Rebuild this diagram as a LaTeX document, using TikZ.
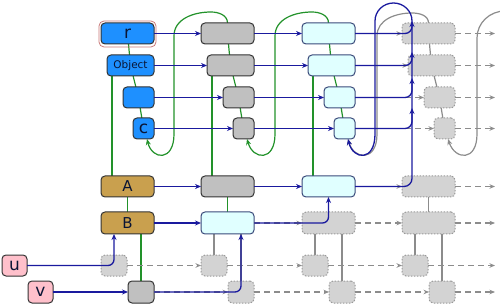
\documentclass[tikz,border=0pt]{standalone}
\usepackage{fontspec}
\setmainfont{DejaVu Sans}
\usetikzlibrary{arrows.meta,backgrounds,calc}
\definecolor{nblue}{HTML}{1E90FF}
\definecolor{ngold}{HTML}{C9A04E}
\definecolor{npink}{HTML}{FFC0CB}
\definecolor{ncyan}{HTML}{E0FFFF}
\definecolor{ngrey}{HTML}{C0C0C0}
\definecolor{ndot}{HTML}{D3D3D3}
\definecolor{ndotb}{HTML}{999999}
\definecolor{aline}{HTML}{1A1A9E}
\definecolor{gline}{HTML}{22922A}
\definecolor{sline}{HTML}{8C8C8C}
\definecolor{bord}{HTML}{333333}
\definecolor{cbord}{HTML}{3A4A7A}
\definecolor{txt}{HTML}{0A1535}
\definecolor{rfr}{HTML}{C87878}
\tikzset{
 base/.style={rounded corners=4pt, inner sep=0pt, outer sep=0pt, line width=1pt, font=\fontsize{15}{15}\selectfont, text=txt},
 big/.style={font=\fontsize{17}{17}\selectfont},
 bluebox/.style={base, draw=bord, fill=nblue},
 goldbox/.style={base, draw=bord, fill=ngold},
 pinkbox/.style={base, draw=bord, fill=npink},
 greybox/.style={base, draw=bord, fill=ngrey},
 cyanbox/.style={base, draw=cbord, fill=ncyan},
 dotbox/.style={base, draw=ndotb, fill=ndot, dash pattern=on 1.5pt off 1.5pt},
 bluearr/.style={draw=aline, line width=1.3pt, -{Stealth[length=6pt,width=5pt]}},
 greyarr/.style={draw=sline, line width=1.2pt, dash pattern=on 6pt off 4pt, -{Stealth[length=5.5pt,width=4.5pt]}},
 greenln/.style={draw=gline, line width=1.2pt},
 greyln/.style={draw=sline, line width=1.2pt},
 loopar/.style={-{Stealth[length=6pt,width=5pt]}},
 rframe/.style={draw=rfr, rounded corners=5pt, line width=0.8pt},
}
\newcommand\mybox[7]{\node[#6,minimum width={((#4)-(#2))*1pt},minimum height={((#5)-(#3))*1pt}] (#1) at ({((#2)+(#4))/2},{((#3)+(#5))/2}) {#7};}
\newcommand\colnodes[7]{%
 \mybox{r#1}{#2}{23}{#2+53}{44}{#3}{}
 \mybox{o#1}{#2+6}{55}{#2+53}{76}{#3}{}
 \mybox{t#1}{#2+22}{87}{#2+53}{108}{#3}{}
 \mybox{c#1}{#2+32}{118}{#2+53}{139}{#3}{}
 \mybox{a#1}{#2}{176}{#2+53}{197}{#4}{}
 \mybox{b#1}{#2}{212}{#2+53}{234}{#5}{}
 \mybox{u#1}{#2}{255}{#2+26}{276}{#6}{}
 \mybox{w#1}{#2+27}{281}{#2+53}{303}{#7}{}
}
\begin{document}
\begin{tikzpicture}[x=1pt,y=-1pt]
\useasboundingbox (0,0) rectangle (500,304);
\clip (0,0) rectangle (500,304);
% column 1
\mybox{r1}{101}{23}{154}{44}{bluebox,big}{r}
\mybox{o1}{107}{55}{154}{76}{bluebox,font=\fontsize{10.5}{11}\selectfont}{Object}
\mybox{t1}{123}{87}{154}{108}{bluebox}{}
\mybox{c1}{133}{118}{154}{139}{bluebox,big}{c}
\mybox{a1}{101}{176}{154}{197}{goldbox}{A}
\mybox{b1}{101}{212}{154}{234}{goldbox}{B}
\mybox{u1}{101}{255}{127}{276}{dotbox}{}
\mybox{w1}{128}{281}{154}{303}{greybox}{}
\mybox{pu}{2}{255}{27}{276}{pinkbox,big}{u}
\mybox{pv}{28}{281}{53}{303}{pinkbox,big}{v}
\draw[rframe] (99,21) rectangle (156,47);
% columns 2-4
\colnodes{2}{201}{greybox}{greybox}{cyanbox}{dotbox}{dotbox}
\colnodes{3}{302}{cyanbox}{cyanbox}{dotbox}{dotbox}{dotbox}
\colnodes{4}{402}{dotbox}{dotbox}{dotbox}{dotbox}{dotbox}
% helper coordinates
\coordinate (offx) at (495,0);
\coordinate (nextr) at (505,11);
\coordinate (tr) at (412,21);
\coordinate (to) at (412,52);
\coordinate (tt) at (412,78);
\coordinate (tc) at (412,108);
\begin{scope}[on background layer]
 \foreach \k in {1,2,3} {\draw[greenln] (r\k.center) -- (o\k.center) -- (t\k.center) -- (c\k.center);}
 \draw[greyln] (r4.center) -- (o4.center) -- (t4.center) -- (c4.center);
 \foreach \k in {1,2,3} {\draw[greenln] ([xshift=5pt]o\k.south west) -- ([xshift=11pt]a\k.north west);}
 \draw[greenln] (a1.center) -- (b1.center);
 \draw[greenln] (a2.center) -- (b2.center);
 \draw[greyln] (a4.center) -- (b4.center);
 \draw[greenln] (w1 |- b1.south) -- (w1.north);
 \foreach \k in {2,3,4} {
   \draw[greyln] (u\k |- b\k.south) -- (u\k.north);
   \draw[greyln] (w\k |- b\k.south) -- (w\k.north);
 }
 % loops
 \draw[greenln, loopar] (r2.north) to[out=90,in=0] (211,12) to[out=180,in=90] (174,36) -- (174,134) .. controls (174,162) and (152,160) .. ([xshift=3.5pt]c1.south);
 \draw[greenln, loopar] (r3.north) to[out=90,in=0] (312,12) to[out=180,in=90] (275,36) -- (275,134) .. controls (275,162) and (253,160) .. ([xshift=3.5pt]c2.south);
 \draw[greyln, loopar] (r4.north) to[out=90,in=0] (412,13) to[out=180,in=90] (377,36) -- (377,134) .. controls (377,162) and (354,160) .. ([xshift=3.5pt]c3.south);
 \draw[greyln, loopar] (nextr) to[out=180,in=90] (477,38) -- (477,134) .. controls (477,162) and (455,160) .. ([xshift=3.5pt]c4.south);
\end{scope}
% grey dashed arrows
\foreach \n in {r,o,t,c} {
  \draw[greyarr] (\n3.east) -- (\n4.west);
  \draw[greyarr] (\n4.east) -- (\n4.east -| offx);
}
\draw[greyarr] (a3.east) -- (a4.west);
\draw[greyarr] (a4.east) -- (a4.east -| offx);
\draw[greyarr] (b2.east) -- (b3.west);
\draw[greyarr] (b3.east) -- (b4.west);
\draw[greyarr] (b4.east) -- (b4.east -| offx);
\draw[greyarr] (u1.east) -- (u2.west);
\draw[greyarr] (u2.east) -- (u3.west);
\draw[greyarr] (u3.east) -- (u4.west);
\draw[greyarr] (u4.east) -- (u4.east -| offx);
\draw[greyarr] (w1.east) -- (w2.west);
\draw[greyarr] (w2.east) -- (w3.west);
\draw[greyarr] (w3.east) -- (w4.west);
\draw[greyarr] (w4.east) -- (w4.east -| offx);
% blue arrows
\foreach \n in {r,o,t,c,a,b} {\draw[bluearr] (\n1.east) -- (\n2.west);}
\foreach \n in {r,o,t,c,a} {\draw[bluearr] (\n2.east) -- (\n3.west);}
\draw[bluearr, rounded corners=6pt] (b2.east) -| (a3.south);
\draw[bluearr] (pv.east) -- (w1.west);
\draw[bluearr, rounded corners=6pt] (pu.east) -| (u1 |- b1.south);
\draw[bluearr, rounded corners=6pt] (w1.east) -| (w2 |- b2.south);
\draw[bluearr, rounded corners=7pt] (r3.east) -| (tr);
\draw[bluearr, rounded corners=7pt] (o3.east) -| (to);
\draw[bluearr, rounded corners=7pt] (t3.east) -| (tt);
\draw[bluearr, rounded corners=7pt] (c3.east) -| (tc);
\draw[bluearr] (a3.east) -- (404,186.5) to[out=0,in=-90] (412,178.5) -- (412,21) to[out=90,in=0] (393.5,3) to[out=180,in=90] (375,21) -- (375,134) .. controls (375,162) and (353,160) .. ([xshift=3.5pt]c3.south);
\end{tikzpicture}
\end{document}
